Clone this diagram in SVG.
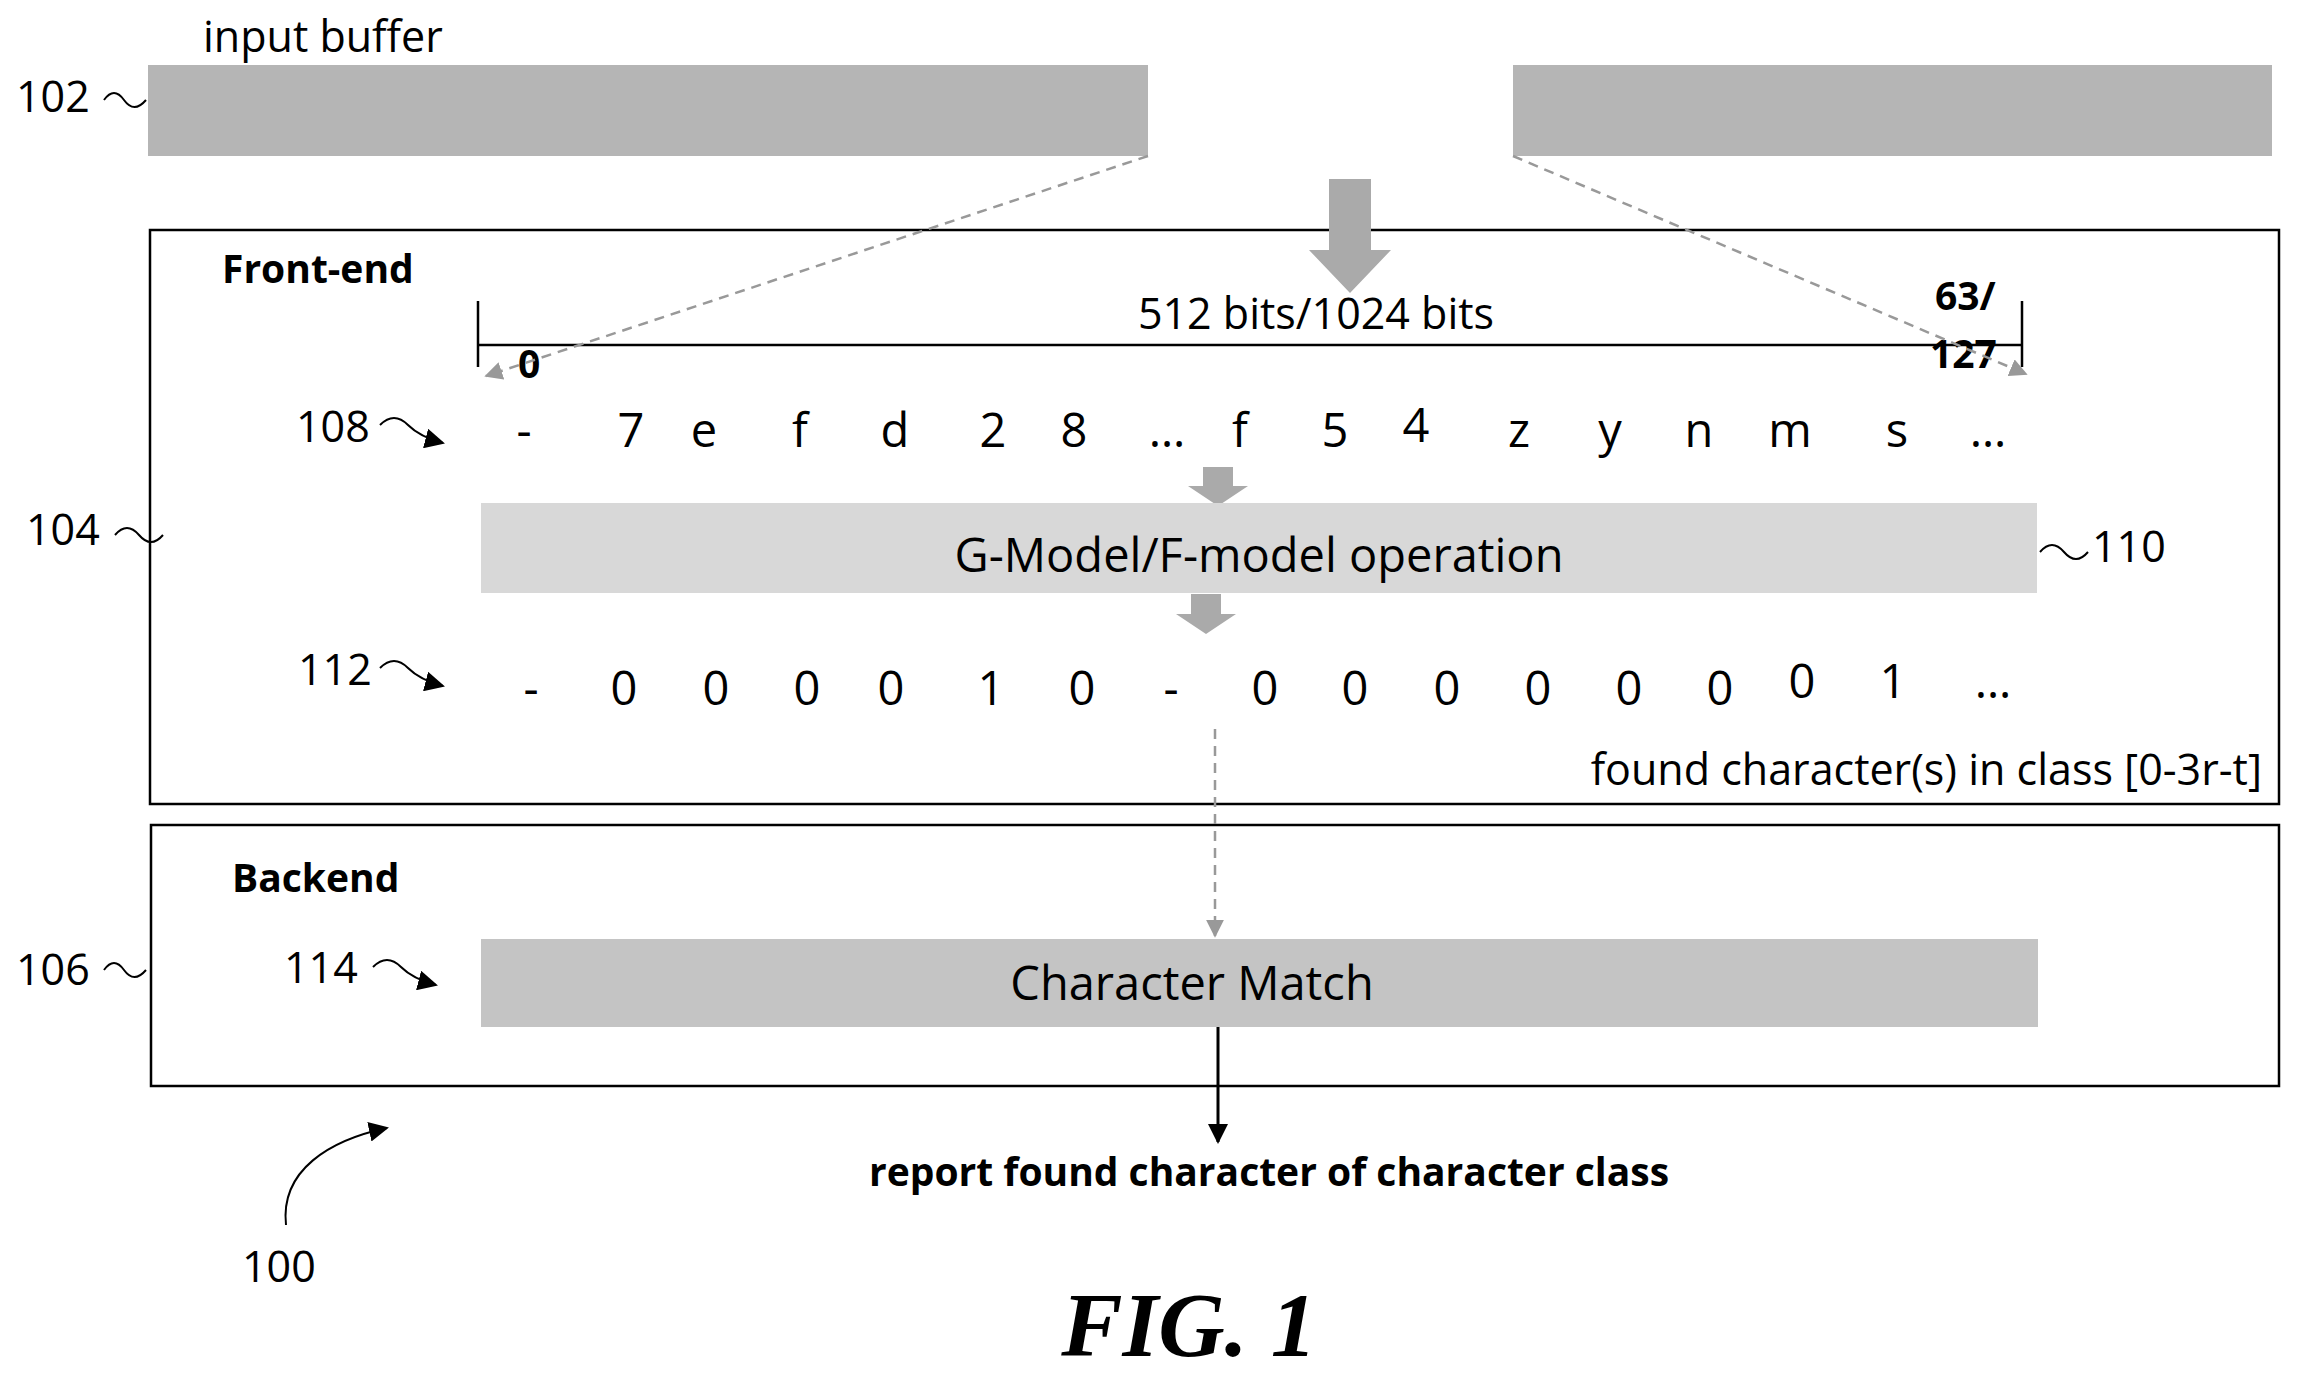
<svg xmlns="http://www.w3.org/2000/svg" width="2301" height="1383" viewBox="0 0 2301 1383">
<defs>
<style>
.t{font-family:"Open Sans","Liberation Sans",sans-serif;font-size:43px;fill:#000}
.c{font-family:"Open Sans","Liberation Sans",sans-serif;font-size:47px;fill:#000;text-anchor:middle}
.b{font-family:"Open Sans","Liberation Sans",sans-serif;font-size:39px;font-weight:bold;fill:#000}
.box{fill:none;stroke:#000;stroke-width:2.5}
.sq{fill:none;stroke:#000;stroke-width:2}
.dash{fill:none;stroke:#999;stroke-width:2.5;stroke-dasharray:10,7}
</style>
<marker id="ah2" viewBox="0 0 10 10" refX="9" refY="5" markerWidth="20" markerHeight="20" orient="auto" markerUnits="userSpaceOnUse"><path d="M0,0L10,5L0,10z" fill="#000"/></marker>
<marker id="gh" viewBox="0 0 10 10" refX="9" refY="5" markerWidth="18" markerHeight="18" orient="auto" markerUnits="userSpaceOnUse"><path d="M0,0L10,5L0,10z" fill="#999"/></marker>
</defs>
<g id="buffer">
<text class="t" x="203" y="52">input buffer</text>
<rect x="148" y="65" width="1000" height="91" fill="#b5b5b5"/>
<rect x="1513" y="65" width="759" height="91" fill="#b5b5b5"/>
<text class="t" x="16" y="112">102</text>
<path class="sq" d="M104,100 q10,-14 20,0 q10,14 22,0"/>
</g>
<g id="frontend">
<rect class="box" x="150" y="230" width="2129" height="574"/>
<text class="b" x="222" y="283">Front-end</text>
<path d="M1329,179H1371V250H1391L1350,293L1309,250H1329Z" fill="#aaa"/>
<path d="M478,345H2022M478,301V367M2022,301V367" stroke="#000" stroke-width="2.5" fill="none"/>
<text class="t" x="1316" y="329" text-anchor="middle">512 bits/1024 bits</text>
<text class="b" x="518" y="378">0</text>
<text class="b" x="1935" y="310">63/</text>
<text class="b" x="1930" y="368">127</text>
<text class="t" x="296" y="442">108</text>
<path class="sq" d="M380,425 q14,-14 28,0 q12,12 35,18" marker-end="url(#ah2)"/>
<g class="c">
<text x="524" y="447">-</text><text x="631" y="447">7</text><text x="704" y="447">e</text><text x="800" y="447">f</text><text x="895" y="447">d</text><text x="993" y="447">2</text><text x="1074" y="447">8</text><text x="1167" y="447">…</text><text x="1240" y="447">f</text><text x="1335" y="447">5</text><text x="1416" y="442">4</text><text x="1519" y="447">z</text><text x="1610" y="447">y</text><text x="1699" y="447">n</text><text x="1790" y="447">m</text><text x="1897" y="447">s</text><text x="1988" y="447">…</text>
</g>
<path d="M1203,467H1233V486H1248L1218,506L1188,486H1203Z" fill="#aaa"/>
<rect x="481" y="503" width="1556" height="90" fill="#d8d8d8"/>
<text class="c" x="1259" y="572" font-size="48">G-Model/F-model operation</text>
<path class="sq" d="M2040,552 q12,-14 24,0 q12,14 24,0"/>
<text class="t" x="2092" y="562">110</text>
<text class="t" x="26" y="545">104</text>
<path class="sq" d="M115,535 q12,-14 24,0 q12,14 24,0"/>
<path d="M1191,594H1221V614H1236L1206,634L1176,614H1191Z" fill="#aaa"/>
<text class="t" x="298" y="685">112</text>
<path class="sq" d="M380,668 q14,-14 28,0 q12,12 35,18" marker-end="url(#ah2)"/>
<g class="c">
<text x="531" y="705">-</text><text x="624" y="705">0</text><text x="716" y="705">0</text><text x="807" y="705">0</text><text x="891" y="705">0</text><text x="991" y="705">1</text><text x="1082" y="705">0</text><text x="1171" y="705">-</text><text x="1265" y="705">0</text><text x="1355" y="705">0</text><text x="1447" y="705">0</text><text x="1538" y="705">0</text><text x="1629" y="705">0</text><text x="1720" y="705">0</text><text x="1802" y="698">0</text><text x="1893" y="698">1</text><text x="1993" y="698">…</text>
</g>
<text class="t" x="2262" y="785" text-anchor="end" font-size="44">found character(s) in class [0-3r-t]</text>
</g>
<g id="backend">
<rect class="box" x="151" y="825" width="2128" height="261"/>
<text class="b" x="232" y="892">Backend</text>
<rect x="481" y="939" width="1557" height="88" fill="#c4c4c4"/>
<text class="c" x="1192" y="1000" font-size="51">Character Match</text>
<text class="t" x="284" y="983">114</text>
<path class="sq" d="M373,967 q14,-14 28,0 q12,12 35,18" marker-end="url(#ah2)"/>
<text class="t" x="16" y="985">106</text>
<path class="sq" d="M104,970 q10,-14 20,0 q10,14 22,0"/>
</g>
<g id="connectors">
<line class="dash" x1="1148" y1="156" x2="486" y2="376" marker-end="url(#gh)"/>
<line class="dash" x1="1513" y1="156" x2="2026" y2="374" marker-end="url(#gh)"/>
<line class="dash" x1="1215" y1="729" x2="1215" y2="936" marker-end="url(#gh)"/>
<line x1="1218" y1="1027" x2="1218" y2="1142" stroke="#000" stroke-width="3" marker-end="url(#ah2)"/>
<path d="M286,1225 C280,1170 330,1140 387,1128" class="sq" stroke-width="2.5" marker-end="url(#ah2)"/>
</g>
<text class="b" x="1269" y="1186" text-anchor="middle" font-size="41">report found character of character class</text>
<text class="t" x="242" y="1282">100</text>
<text x="1189" y="1356" text-anchor="middle" font-family="Liberation Serif,serif" font-style="italic" font-weight="bold" font-size="92">FIG. 1</text>
</svg>
